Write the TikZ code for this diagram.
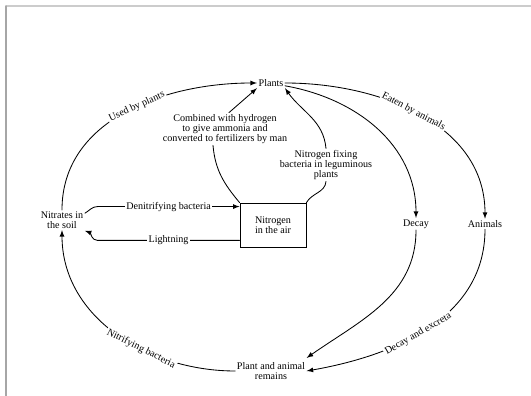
\documentclass[tikz,border=0pt]{standalone}
\usepackage{fontspec}
\setmainfont{Liberation Serif}
\begin{document}
\begin{tikzpicture}[line cap=round,>=latex,
  lbl/.style={font=\fontsize{7.2}{7.2}\selectfont, align=center, inner sep=1pt},
  onarc/.style={lbl, fill=white, sloped}]
  \useasboundingbox (0,0) rectangle (13.275,9.9);
  \draw[black!20, line width=0.8pt] (0.15,9.75) -- (13.275,9.75);
  \draw[black!35, line width=0.8pt] (0.15,0) -- (0.15,9.75);
  \node[lbl] (plants) at (6.775,7.825) {Plants};
  \node[lbl] (nitrates) at (1.55,4.40) {Nitrates in\\the soil};
  \node[lbl, draw, line width=0.6pt, minimum width=1.65cm, minimum height=1.1cm] (air) at (6.825,4.275) {Nitrogen\\in the air};
  \node[lbl] (decay) at (10.4,4.30) {Decay};
  \node[lbl] (animals) at (12.125,4.30) {Animals};
  \node[lbl] (remains) at (6.775,0.625) {Plant and animal\\remains};
  \node[lbl] (combined) at (5.625,6.675) {Combined with hydrogen\\to give ammonia and\\converted to fertilizers by man};
  \node[lbl] (fixing) at (8.15,5.775) {Nitrogen fixing\\bacteria in leguminous\\plants};
  % outer ring
  \draw[line width=0.6pt, ->] (remains.west) to[out=180,in=270] node[onarc, pos=0.38] {Nitrifying bacteria} (nitrates.south);
  \draw[line width=0.6pt, ->] (nitrates.north) to[out=90,in=180] node[onarc, pos=0.55] {Used by plants} (plants.west);
  \draw[line width=0.6pt, ->] (plants.east) to[out=0,in=90] node[onarc, pos=0.47] {Eaten by animals} (animals.north);
  \draw[line width=0.6pt, ->] (animals.south) to[out=270,in=10] node[onarc, pos=0.55] {Decay and excreta} (remains.east);
  % decay
  \draw[line width=0.6pt, ->] ([yshift=-2pt]plants.east) to[out=-10,in=90] (decay.north);
  \draw[line width=0.6pt, ->] (decay.south) to[out=270,in=35] ([yshift=2pt]remains.north east);
  % to and from the air
  \draw[line width=0.6pt, ->] ([yshift=0.17cm]nitrates.east) to[out=30,in=180] ([xshift=-3.55cm,yshift=-0.1cm]air.north west) -- node[lbl, fill=white] {Denitrifying bacteria} ([yshift=-0.1cm]air.north west);
  \draw[line width=0.6pt, ->] ([yshift=0.175cm]air.south west) -- node[lbl, fill=white] {Lightning} ++(-3.55,0) to[out=180,in=-20] ([yshift=-0.27cm]nitrates.east);
  \draw[line width=0.6pt] (air.north west) to[out=130,in=275] ([xshift=-0.3cm]combined.south);
  \draw[line width=0.6pt, ->] ([xshift=0.1cm]combined.north) -- (plants.south west);
  \draw[line width=0.6pt] (air.north east) to[out=60,in=265] (fixing.south);
  \draw[line width=0.6pt, ->] (fixing.north) to[out=95,in=-55] (plants.south east);
\end{tikzpicture}
\end{document}
